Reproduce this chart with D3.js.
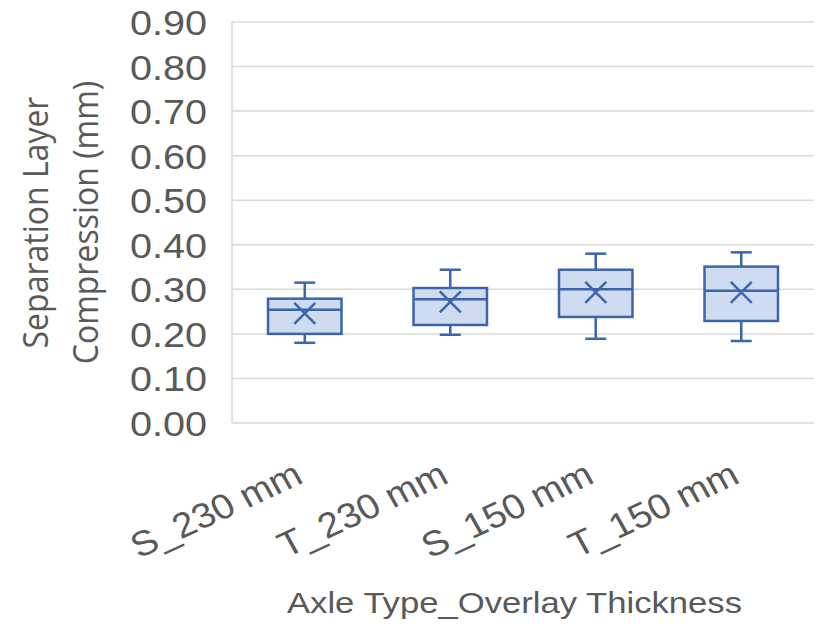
<!DOCTYPE html>
<html>
<head>
<meta charset="utf-8">
<script src="https://cdn.jsdelivr.net/npm/d3@7/dist/d3.min.js"></script>
<style>
  html, body { margin: 0; padding: 0; background: #ffffff; }
  svg { display: block; }
</style>
</head>
<body>
<script>
// ---- data ----
const categories = ["S_230 mm", "T_230 mm", "S_150 mm", "T_150 mm"];
const mins    = [0.180, 0.198, 0.189, 0.184];
const q1s     = [0.200, 0.220, 0.238, 0.229];
const medians = [0.254, 0.278, 0.300, 0.297];
const q3s     = [0.279, 0.303, 0.344, 0.351];
const maxs    = [0.315, 0.344, 0.380, 0.383];
const means   = [0.246, 0.272, 0.293, 0.293];
const yTicks  = [0, 0.1, 0.2, 0.3, 0.4, 0.5, 0.6, 0.7, 0.8, 0.9];
const xTitle = "Axle Type_Overlay Thickness";
const yTitleLines = ["Separation Layer", "Compression (mm)"];

// ---- layout ----
const W = 821, H = 628;
const plot = { left: 232, right: 814, top: 22, bottom: 423 };
const SX = 1.1; // horizontal stretch of text in the reference
const textColor = "#595959";
const gridColor = "#d9d9d9";
const boxStroke = "#3c65ad";
const boxFill = "#cfdbef";

const svg = d3.select("body").append("svg").attr("width", W).attr("height", H);

const x = d3.scaleBand().domain(categories).range([plot.left, plot.right]).padding(0);
const y = d3.scaleLinear().domain([0, 0.9]).range([plot.bottom, plot.top]);

// gridlines
svg.append("g").selectAll("line").data(yTicks).join("line")
  .attr("x1", plot.left).attr("x2", plot.right)
  .attr("y1", d => y(d)).attr("y2", d => y(d))
  .attr("stroke", gridColor).attr("stroke-width", 1.5);

// left axis line
svg.append("line")
  .attr("x1", plot.left).attr("x2", plot.left)
  .attr("y1", y(0.9)).attr("y2", y(0))
  .attr("stroke", gridColor).attr("stroke-width", 1.5);

// y tick labels
svg.append("g").selectAll("text").data(yTicks).join("text")
  .attr("transform", d => `translate(207,${y(d)}) scale(${SX},1)`)
  .attr("dy", "0.36em")
  .attr("text-anchor", "end")
  .attr("font-family", "Liberation Sans, Arial, sans-serif")
  .attr("font-size", 36)
  .attr("fill", textColor)
  .text(d => d3.format(".2f")(d));

// x tick labels (rotated)
svg.append("g").selectAll("text").data(categories).join("text")
  .attr("transform", d => `translate(${x(d) + x.bandwidth() / 2},482) scale(${SX},1) rotate(-27)`)
  .attr("text-anchor", "end")
  .attr("font-family", "Liberation Sans, Arial, sans-serif")
  .attr("font-size", 35)
  .attr("fill", textColor)
  .text(d => d);

// x title
svg.append("text")
  .attr("x", 514.5).attr("y", 613)
  .attr("text-anchor", "middle")
  .attr("font-family", "Liberation Sans, Arial, sans-serif")
  .attr("font-size", 29.5)
  .attr("textLength", 455)
  .attr("lengthAdjust", "spacingAndGlyphs")
  .attr("fill", textColor)
  .text(xTitle);

// y title (two lines)
const yTitleX = [47.5, 97.5];
svg.append("g").selectAll("text").data(yTitleLines).join("text")
  .attr("transform", (d, i) => `translate(${yTitleX[i]},${(plot.top + plot.bottom) / 2}) scale(${SX},1) rotate(-90)`)
  .attr("text-anchor", "middle")
  .attr("font-family", "Open Sans, sans-serif")
  .attr("font-size", 32)
  .attr("fill", textColor)
  .text(d => d);

// boxes
const boxW = x.bandwidth() * 0.505;
const capW = 21;
const xMark = 10.5;
const g = svg.append("g").attr("stroke", boxStroke).attr("stroke-width", 2.5).attr("fill", "none");

categories.forEach((c, i) => {
  const cx = x(c) + x.bandwidth() / 2;
  const grp = g.append("g");
  // whiskers
  grp.append("line").attr("x1", cx).attr("x2", cx).attr("y1", y(q3s[i])).attr("y2", y(maxs[i]));
  grp.append("line").attr("x1", cx).attr("x2", cx).attr("y1", y(q1s[i])).attr("y2", y(mins[i]));
  grp.append("line").attr("x1", cx - capW / 2).attr("x2", cx + capW / 2).attr("y1", y(maxs[i])).attr("y2", y(maxs[i]));
  grp.append("line").attr("x1", cx - capW / 2).attr("x2", cx + capW / 2).attr("y1", y(mins[i])).attr("y2", y(mins[i]));
  // box
  grp.append("rect")
    .attr("x", cx - boxW / 2).attr("width", boxW)
    .attr("y", y(q3s[i])).attr("height", y(q1s[i]) - y(q3s[i]))
    .attr("fill", boxFill);
  // median
  grp.append("line").attr("x1", cx - boxW / 2).attr("x2", cx + boxW / 2)
    .attr("y1", y(medians[i])).attr("y2", y(medians[i]));
  // mean marker X
  const my = y(means[i]);
  grp.append("line").attr("x1", cx - xMark).attr("x2", cx + xMark).attr("y1", my - xMark).attr("y2", my + xMark);
  grp.append("line").attr("x1", cx - xMark).attr("x2", cx + xMark).attr("y1", my + xMark).attr("y2", my - xMark);
});
</script>
</body>
</html>
